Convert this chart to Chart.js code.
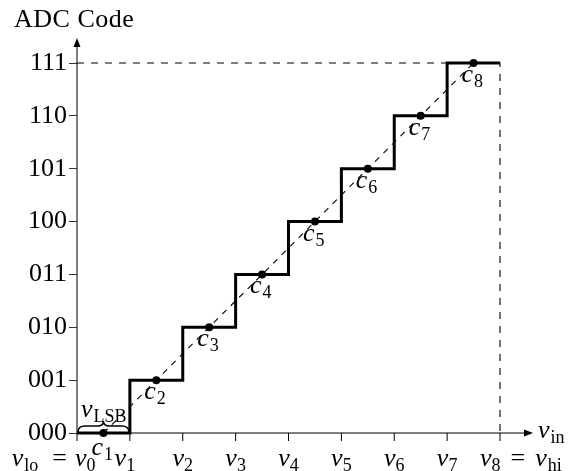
<!DOCTYPE html>
<html>
<head>
    <title>ADC Transfer</title>
    <script src="https://cdn.jsdelivr.net/npm/chart.js"></script>
    <style>
        body { margin: 0; background: #fff; }
    </style>
</head>
<body>
    <canvas id="adc-chart" width="570" height="471"></canvas>

    <script>
        // staircase corners (input in units of v_k, output code index)
        const stepX = [0, 1, 2, 3, 4, 5, 6, 7, 8];
        const stepCode = [0, 1, 2, 3, 4, 5, 6, 7, 7];
        // code centres c_1 .. c_8
        const centreX = [0.5, 1.5, 2.5, 3.5, 4.5, 5.5, 6.5, 7.5];
        const centreCode = [0, 1, 2, 3, 4, 5, 6, 7];
        const centreNames = ['1', '2', '3', '4', '5', '6', '7', '8'];
        // dashed guide to full scale
        const guideX = [0, 8, 8];
        const guideCode = [7, 7, 0];
        // tick labels
        const yTickLabels = ['000', '001', '010', '011', '100', '101', '110', '111'];
        const xTickSubs = ['0', '1', '2', '3', '4', '5', '6', '7', '8'];

        const FAM = '"Liberation Serif", serif';
        const RM = '26px ' + FAM;
        const IT = 'italic 26px ' + FAM;
        const SUB = '18px ' + FAM;

        function partsWidth(ctx, parts) {
            let w = 0;
            parts.forEach(p => {
                ctx.font = p.sub ? SUB : (p.it ? IT : RM);
                w += (p.gap || 0) + ctx.measureText(p.t).width;
            });
            return w;
        }

        function drawParts(ctx, parts, x, y) {
            let cx = x;
            parts.forEach(p => {
                ctx.font = p.sub ? SUB : (p.it ? IT : RM);
                cx += p.gap || 0;
                ctx.fillText(p.t, cx, y + (p.sub ? 5 : 0));
                cx += ctx.measureText(p.t).width;
            });
            return cx;
        }

        function arrow(ctx, x, y, dir) {
            ctx.beginPath();
            if (dir === 'right') {
                ctx.moveTo(x, y);
                ctx.lineTo(x - 9, y - 3.5);
                ctx.lineTo(x - 9, y + 3.5);
            } else {
                ctx.moveTo(x, y);
                ctx.lineTo(x - 3.5, y + 9);
                ctx.lineTo(x + 3.5, y + 9);
            }
            ctx.closePath();
            ctx.fill();
        }

        const axesPlugin = {
            id: 'axesPlugin',
            beforeDatasetsDraw(chart) {
                const ctx = chart.ctx;
                const xs = chart.scales.x, ys = chart.scales.y;
                const x0 = xs.getPixelForValue(0), y0 = ys.getPixelForValue(0);
                ctx.save();
                ctx.strokeStyle = '#000';
                ctx.fillStyle = '#000';
                ctx.lineWidth = 1;
                // x axis
                ctx.beginPath();
                ctx.moveTo(x0, y0);
                ctx.lineTo(xs.getPixelForValue(8) + 28, y0);
                ctx.stroke();
                arrow(ctx, xs.getPixelForValue(8) + 33, y0, 'right');
                // y axis
                ctx.beginPath();
                ctx.moveTo(x0, y0);
                ctx.lineTo(x0, ys.getPixelForValue(7) - 20);
                ctx.stroke();
                arrow(ctx, x0, ys.getPixelForValue(7) - 25, 'up');
                // x ticks
                xTickSubs.forEach((s, i) => {
                    const px = xs.getPixelForValue(i);
                    ctx.beginPath();
                    ctx.moveTo(px, y0);
                    ctx.lineTo(px, y0 + 8);
                    ctx.stroke();
                });
                ctx.restore();
            },
            afterDraw(chart) {
                const ctx = chart.ctx;
                const xs = chart.scales.x, ys = chart.scales.y;
                const y0 = ys.getPixelForValue(0);
                ctx.save();
                ctx.fillStyle = '#000';
                ctx.strokeStyle = '#000';
                ctx.textBaseline = 'alphabetic';

                // axis titles
                ctx.font = RM;
                ctx.letterSpacing = '0.5px';
                ctx.fillText('ADC Code', 14, 27);
                ctx.letterSpacing = '0px';
                drawParts(ctx, [{ t: 'v', it: true }, { t: 'in', sub: true, gap: 1 }], xs.getPixelForValue(8) + 38, y0 + 5);

                // x tick labels
                const base = y0 + 33;
                xTickSubs.forEach((s, i) => {
                    const px = xs.getPixelForValue(i);
                    const parts = [{ t: 'v', it: true }, { t: s, sub: true }];
                    if (i === 0) {
                        const left = [{ t: 'v', it: true }, { t: 'lo', sub: true, gap: 1 }, { t: '=', gap: 14 }];
                        drawParts(ctx, left, px - 10 - partsWidth(ctx, left), base);
                        drawParts(ctx, parts, px - 2, base);
                    } else if (i === 8) {
                        const end = drawParts(ctx, parts, px - 20, base);
                        drawParts(ctx, [{ t: '=', gap: 10 }, { t: 'v', it: true, gap: 10 }, { t: 'hi', sub: true, gap: 1 }], end, base);
                    } else {
                        const w = partsWidth(ctx, parts);
                        drawParts(ctx, parts, px - w / 2 - (i === 1 ? 5 : 0), base);
                    }
                });

                // c_k labels
                centreNames.forEach((s, i) => {
                    const px = xs.getPixelForValue(centreX[i]);
                    const py = ys.getPixelForValue(centreCode[i]);
                    drawParts(ctx, [{ t: 'c', it: true }, { t: s, sub: true, gap: 1 }], px - 12, py + (i === 0 ? 22 : 19));
                });

                // LSB brace between v0 and v1
                const bx0 = xs.getPixelForValue(0) + 1, bx1 = xs.getPixelForValue(1) - 1;
                const bm = (bx0 + bx1) / 2, yb = y0 - 1, yt = y0 - 12, ym = y0 - 7;
                ctx.lineWidth = 1.5;
                ctx.beginPath();
                ctx.moveTo(bx0, yb);
                ctx.quadraticCurveTo(bx0, ym, bx0 + 7, ym);
                ctx.lineTo(bm - 6, ym);
                ctx.quadraticCurveTo(bm, ym, bm, yt);
                ctx.quadraticCurveTo(bm, ym, bm + 6, ym);
                ctx.lineTo(bx1 - 7, ym);
                ctx.quadraticCurveTo(bx1, ym, bx1, yb);
                ctx.stroke();
                drawParts(ctx, [{ t: 'v', it: true }, { t: 'LSB', sub: true, gap: 1 }], bx0 + 3, y0 - 16);

                ctx.restore();
            }
        };

        const pts = (xa, ya) => xa.map((x, i) => ({ x: x, y: ya[i] }));

        const ctx = document.getElementById('adc-chart').getContext('2d');
        new Chart(ctx, {
            type: 'scatter',
            data: {
                datasets: [{
                    data: pts(guideX, guideCode),
                    showLine: true,
                    borderColor: '#000',
                    borderWidth: 1.1,
                    borderDash: [7, 7],
                    pointRadius: 0,
                    clip: false,
                    order: 4
                }, {
                    data: pts(centreX, centreCode),
                    showLine: true,
                    borderColor: '#000',
                    borderWidth: 1.1,
                    borderDash: [6, 6],
                    pointRadius: 0,
                    clip: false,
                    order: 3
                }, {
                    data: pts(stepX, stepCode),
                    showLine: true,
                    stepped: 'before',
                    borderColor: '#000',
                    borderWidth: 3,
                    pointRadius: 0,
                    clip: false,
                    order: 2
                }, {
                    data: pts(centreX, centreCode),
                    showLine: false,
                    pointRadius: 4,
                    pointBackgroundColor: '#000',
                    pointBorderWidth: 0,
                    clip: false,
                    order: 1
                }]
            },
            options: {
                responsive: false,
                animation: false,
                devicePixelRatio: 1,
                layout: { padding: { left: 0, top: 63, right: 70, bottom: 38 } },
                plugins: { legend: { display: false }, tooltip: { enabled: false } },
                scales: {
                    x: { type: 'linear', min: 0, max: 8, display: false },
                    y: {
                        type: 'linear',
                        min: 0,
                        max: 7,
                        afterFit: scale => { scale.width = 77; },
                        border: { display: false },
                        grid: { drawOnChartArea: false, drawTicks: true, tickLength: 8, color: '#333' },
                        ticks: {
                            stepSize: 1,
                            padding: 2,
                            color: '#000',
                            font: { family: 'Liberation Serif', size: 26 },
                            callback: v => yTickLabels[v]
                        }
                    }
                }
            },
            plugins: [axesPlugin]
        });
    </script>
</body>
</html>
